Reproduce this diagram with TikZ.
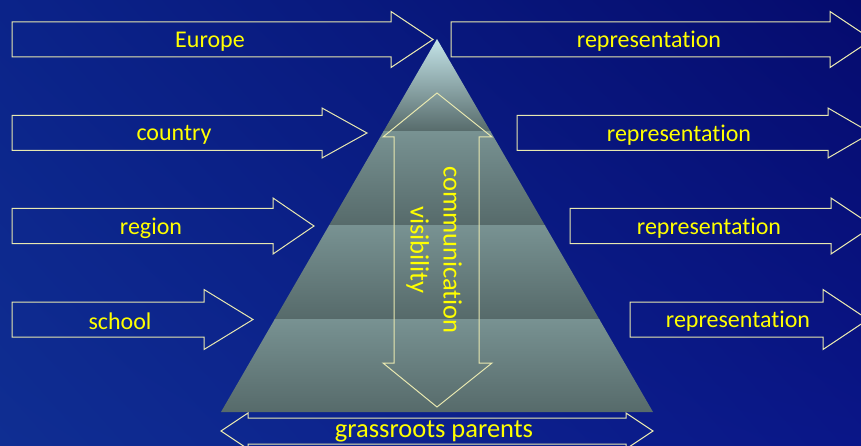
\documentclass[tikz,border=0pt]{standalone}
\usepackage{fontspec}
\setmainfont[Ligatures=NoCommon]{Carlito}
\usetikzlibrary{shadings}
\definecolor{bgul}{HTML}{0B2389}
\definecolor{bgur}{HTML}{050B6E}
\definecolor{bgll}{HTML}{0F2E92}
\definecolor{bglr}{HTML}{0A1688}
\definecolor{edgecream}{HTML}{E8E8B0}
\definecolor{labelyellow}{HTML}{FFFF00}
\definecolor{pyrtop}{HTML}{C4E4E8}
\definecolor{pyrband}{HTML}{789292}
\definecolor{pyrdark}{HTML}{566A6A}
\tikzset{
  blockarrow/.style={draw=edgecream, line width=1pt, line join=miter},
  lbl/.style={text=labelyellow, font=\fontsize{24}{29}\selectfont},
  biglbl/.style={text=labelyellow, font=\fontsize{26.5}{33}\selectfont}
}
\begin{document}
\begin{tikzpicture}[x=1pt,y=-1pt]
    \useasboundingbox (0,0) rectangle (861,446);
    \clip (0,0) rectangle (861,446);
    \shade[upper left=bgul, upper right=bgur, lower left=bgll, lower right=bglr] (0,0) rectangle (861,446);
    %
    % pyramid, four bands
    \begin{scope}
      \clip (437,39) -- (221,412) -- (653,412) -- cycle;
      \shade[top color=pyrtop, bottom color=pyrdark] (200,39) rectangle (680,132);
      \shade[top color=pyrband, bottom color=pyrdark] (200,132) rectangle (680,226);
      \shade[top color=pyrband, bottom color=pyrdark] (200,226) rectangle (680,319);
      \shade[top color=pyrband, bottom color=pyrdark] (200,319) rectangle (680,413);
    \end{scope}
    %
    % left arrows
    \draw[blockarrow] (12,22) -- (391,22) -- (391,11.5) -- (433,39.5) -- (391,67.5) -- (391,57) -- (12,57) -- cycle;
    \node[lbl] (europe) at (210,41.5) {Europe};
    \draw[blockarrow] (12,115.5) -- (322,115.5) -- (322,108) -- (367,133) -- (322,158) -- (322,150.5) -- (12,150.5) -- cycle;
    \node[lbl] (country) at (174,135) {country};
    \draw[blockarrow] (12,208.5) -- (273,208.5) -- (273,198) -- (314,226) -- (273,254) -- (273,243.5) -- (12,243.5) -- cycle;
    \node[lbl] (region) at (151,228) {region};
    \draw[blockarrow] (12,302) -- (204,302) -- (204,289.5) -- (253,319.5) -- (204,349.5) -- (204,337) -- (12,337) -- cycle;
    \node[lbl] (school) at (120,321.5) {school};
    %
    % right arrows
    \draw[blockarrow] (451,22) -- (830,22) -- (830,11.5) -- (872,39.5) -- (830,67.5) -- (830,57) -- (451,57) -- cycle;
    \node[lbl] (repeurope) at (649,41.5) {representation};
    \draw[blockarrow] (517,115.5) -- (828,115.5) -- (828,108) -- (871,133) -- (828,158) -- (828,150.5) -- (517,150.5) -- cycle;
    \node[lbl] (repcountry) at (679,135) {representation};
    \draw[blockarrow] (570,208.5) -- (831,208.5) -- (831,198) -- (873,226) -- (831,254) -- (831,243.5) -- (570,243.5) -- cycle;
    \node[lbl] (repregion) at (709,228) {representation};
    \draw[blockarrow] (630,302) -- (823,302) -- (823,289.5) -- (868,319.5) -- (823,349.5) -- (823,337) -- (630,337) -- cycle;
    \node[lbl] (repschool) at (738,321.5) {representation};
    %
    % up-down arrow in the pyramid
    \draw[blockarrow] (437,93) -- (492,137) -- (479,137) -- (479,363) -- (492,363) -- (437,407)
      -- (383,363) -- (394,363) -- (394,137) -- (383,137) -- cycle;
    \node[biglbl, rotate=-90, align=center] (commvis) at (434,250) {communication\\visibility};
    %
    % base arrow
    \draw[blockarrow] (221,431) -- (248,413) -- (248,418) -- (626,418) -- (626,413) -- (653,431)
      -- (626,449) -- (626,444) -- (248,444) -- (248,449) -- cycle;
    \node[biglbl] (grassroots) at (434,431) {grassroots parents};
  \end{tikzpicture}
\end{document}
